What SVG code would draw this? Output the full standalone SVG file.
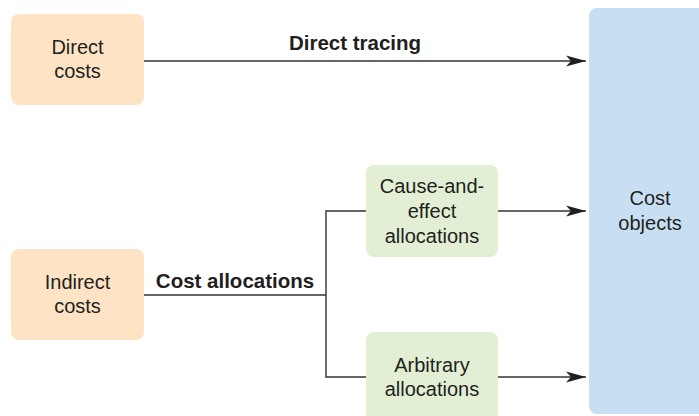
<svg xmlns="http://www.w3.org/2000/svg" width="699" height="416" viewBox="0 0 699 416">
<defs>
<style>
.t{font-family:"Liberation Sans",Arial,sans-serif;font-size:20px;fill:#231f20;text-anchor:middle}
.b{font-family:"Liberation Sans",Arial,sans-serif;font-size:20.5px;font-weight:bold;fill:#231f20;text-anchor:middle}
.or{fill:#fee4c4}
.gr{fill:#e2efd5}
.bl{fill:#c8dff3}
.ln{fill:none;stroke:#333;stroke-width:1.4}
</style>
<marker id="ah" markerUnits="userSpaceOnUse" markerWidth="22" markerHeight="14" refX="20" refY="7" orient="auto">
<path d="M0,1.5 L20,7 L0,12.5 L5,7 Z" fill="#231f20"/>
</marker>
</defs>
<rect width="699" height="416" fill="#fff"/>
<g id="cost-objects">
<rect class="bl" x="589" y="8" width="130" height="406" rx="8"/>
<text class="t" x="650" y="205">Cost</text>
<text class="t" x="650" y="230">objects</text>
</g>
<g id="connectors">
<line class="ln" x1="144" y1="61" x2="586" y2="61" marker-end="url(#ah)"/>
<polyline class="ln" points="144,295 326,295"/>
<polyline class="ln" points="366,211 326,211 326,377 366,377"/>
<line class="ln" x1="498" y1="211" x2="586" y2="211" marker-end="url(#ah)"/>
<line class="ln" x1="498" y1="377" x2="586" y2="377" marker-end="url(#ah)"/>
<text class="b" x="355" y="50">Direct tracing</text>
<text class="b" x="235" y="288">Cost allocations</text>
</g>
<g id="direct-costs">
<rect class="or" x="11" y="14" width="133" height="91" rx="8"/>
<text class="t" x="77.5" y="54">Direct</text>
<text class="t" x="77.5" y="78">costs</text>
</g>
<g id="indirect-costs">
<rect class="or" x="11" y="249" width="133" height="91" rx="8"/>
<text class="t" x="77.5" y="289">Indirect</text>
<text class="t" x="77.5" y="313">costs</text>
</g>
<g id="cause-and-effect">
<rect class="gr" x="366" y="165" width="132" height="92" rx="8"/>
<text class="t" x="432" y="193">Cause-and-</text>
<text class="t" x="432" y="218">effect</text>
<text class="t" x="432" y="243">allocations</text>
</g>
<g id="arbitrary">
<rect class="gr" x="366" y="332" width="132" height="100" rx="8"/>
<text class="t" x="432" y="372">Arbitrary</text>
<text class="t" x="432" y="396">allocations</text>
</g>
</svg>
